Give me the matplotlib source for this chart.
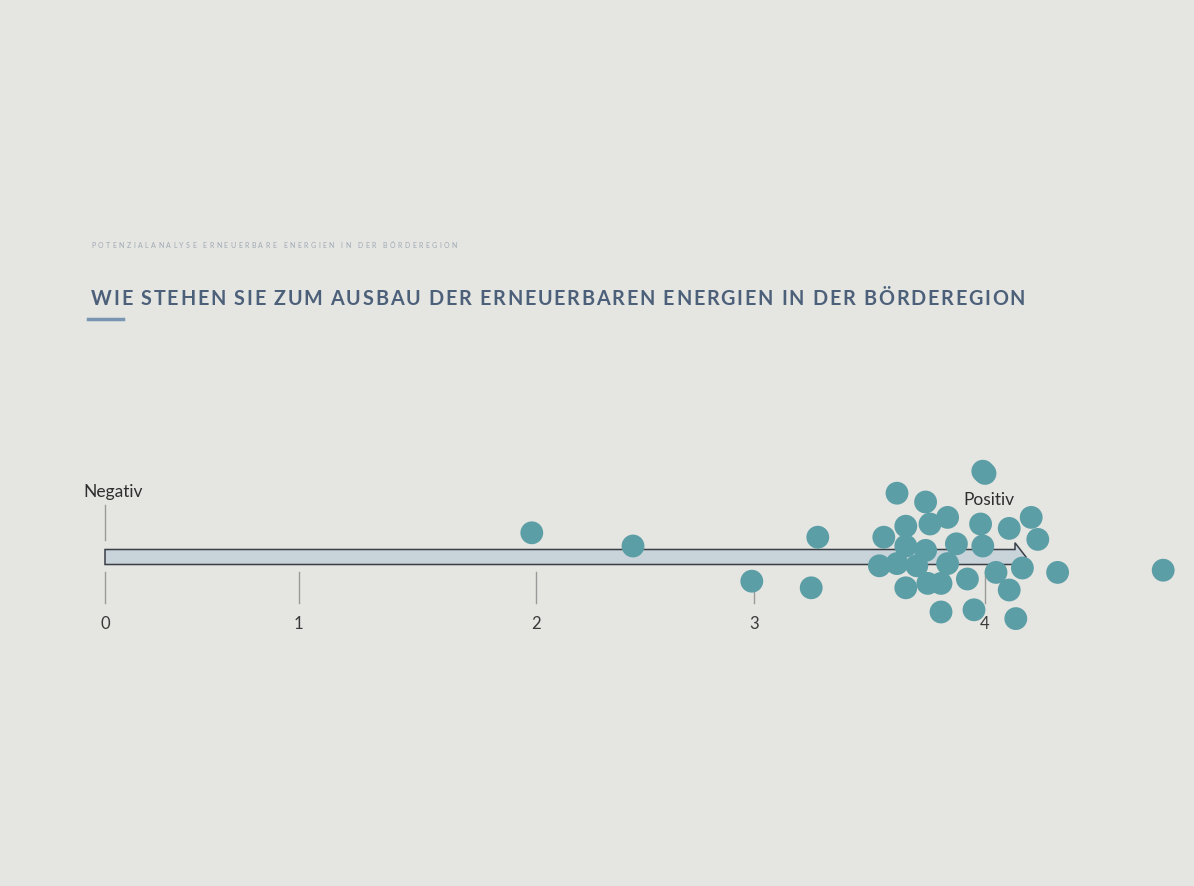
import matplotlib
matplotlib.use("Agg")
import matplotlib.pyplot as plt
from matplotlib.patches import FancyArrow

# ---- data (x = rating position on the poster scale, y = sticker offset) ----
tick_labels = ["0", "1", "2", "3", "4"]
tick_pos = [0.0, 0.88, 1.96, 2.95, 4.0]

dot_x = [1.94, 2.40, 2.94, 3.21, 3.24, 4.81, 4.33, 3.99,
         4.00, 3.60, 3.73, 3.83, 3.75, 3.64, 3.54, 3.98, 4.11, 4.21, 4.24,
         3.87, 3.99, 3.64, 3.73, 3.52, 3.60, 3.69, 3.83, 3.92, 4.05, 4.17,
         3.64, 3.74, 3.80, 4.11, 3.80, 3.95, 4.14]
dot_y = [0.11, 0.05, -0.11, -0.14, 0.09, -0.06, -0.07, 0.39,
         0.38, 0.29, 0.25, 0.18, 0.15, 0.14, 0.09, 0.15, 0.13, 0.18, 0.08,
         0.06, 0.05, 0.05, 0.03, -0.04, -0.03, -0.04, -0.03, -0.10, -0.07, -0.05,
         -0.14, -0.12, -0.12, -0.15, -0.25, -0.24, -0.28]

title = "WIE STEHEN SIE ZUM AUSBAU DER ERNEUERBAREN ENERGIEN IN DER BÖRDEREGION"
subtitle = "POTENZIALANALYSE ERNEUERBARE ENERGIEN IN DER BÖRDEREGION"
left_label = "Negativ"
right_label = "Positiv"

# ---- figure ----
W, H = 1194, 886
S = 220.0           # pixels per scale unit
X0, Y0 = 105, 557   # pixel position of scale origin
BG = "#e5e5e2"
fig = plt.figure(figsize=(W / 100, H / 100), dpi=100, facecolor=BG)
ax = fig.add_axes([0, 0, 1, 1])
ax.set_facecolor(BG)
ax.set_xlim(-X0 / S, (W - X0) / S)
ax.set_ylim((Y0 - H) / S, Y0 / S)
ax.axis("off")

def py(p):  # pixel row -> y units
    return (Y0 - p) / S

renderer = fig.canvas.get_renderer()

def text_width(s, **kw):
    t = fig.text(0, 0, s, **kw)
    w = t.get_window_extent(renderer).width
    t.remove()
    return w

def tracked_text(x_px, y_px, s, target_w, **kw):
    """Letter-spaced text: each glyph placed so the line spans target_w pixels."""
    bar_w = text_width("|", **kw)
    offs = [0.0] + [text_width(s[:i] + "|", **kw) - bar_w for i in range(1, len(s))]
    natural = text_width(s, **kw)
    track = (target_w - natural) / (len(s) - 1)
    for i, ch in enumerate(s):
        if ch == " ":
            continue
        fig.text((x_px + offs[i] + i * track) / W, 1 - y_px / H, ch,
                 ha="left", va="baseline", **kw)

# bar with arrow
bh = py(549) - py(564)
ax.add_patch(FancyArrow(0, 0.0, (1026 - X0) / S, 0, width=bh, head_width=bh * 1.9,
                        head_length=0.05, length_includes_head=True,
                        facecolor="#c9d3da", edgecolor="#3a3f46", lw=1.1, zorder=2))

# ticks
for tp, tl in zip(tick_pos, tick_labels):
    ax.plot([tp, tp], [py(572), py(603)], color="#9a9a9a", lw=1, zorder=1)
    ax.text(tp, py(624), tl, ha="center", va="center", fontsize=12,
            color="#3a3a3a", family="Lato")
ax.plot([0, 0], [py(505), py(540)], color="#9a9a9a", lw=1, zorder=1)

ax.text(-0.10, py(492), left_label, ha="left", va="center", fontsize=12.5,
        color="#2e2e2e", family="Lato")
ax.text(3.9, py(500), right_label, ha="left", va="center", fontsize=12.5,
        color="#2e2e2e", family="Lato")

# dots
ax.scatter(dot_x, dot_y, s=270, color="#5c9ea5", edgecolors="none", zorder=3)

# titles
tracked_text(91, 305, title, 934, fontsize=14.2, color="#4c6079",
             family="Lato", fontweight="bold")
tracked_text(91, 248, subtitle, 366, fontsize=5.0, color="#a0aab4",
             family="Lato")
fig.add_artist(plt.Line2D([88 / W, 123 / W], [1 - 319 / H, 1 - 319 / H],
                          color="#7896b2", lw=2.5))

fig.savefig("out.png", dpi=100, facecolor=fig.get_facecolor())
